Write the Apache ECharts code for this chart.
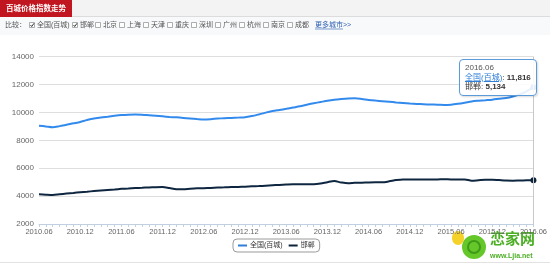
<!DOCTYPE html>
<html><head><meta charset="utf-8">
<script src="https://cdn.jsdelivr.net/npm/echarts@6/dist/echarts.min.js"></script>
<style>html,body{margin:0;padding:0;background:#fff;}#c{width:550px;height:264px;}</style>
</head><body><div id="c"></div>
<script>
// ---- data ----
var months = [];
(function(){ var y=2010,m=6; for(var i=0;i<73;i++){ months.push(y+'.'+(m<10?'0'+m:m)); m++; if(m>12){m=1;y++;} } })();
var seriesNames = ['全国(百城)', '邯郸'];
var national = [9050,9000,8940,9020,9120,9220,9320,9460,9560,9640,9700,9760,9810,9840,9850,9840,9800,9760,9720,9680,9650,9610,9570,9530,9500,9520,9560,9590,9610,9630,9650,9740,9860,9990,10100,10180,10260,10350,10440,10560,10660,10750,10840,10910,10960,11000,11020,10970,10900,10850,10810,10770,10720,10680,10640,10610,10590,10570,10560,10540,10560,10620,10700,10790,10840,10880,10920,10980,11040,11150,11300,11520,11816];
var handan = [4130,4100,4080,4130,4180,4230,4280,4320,4360,4400,4440,4480,4520,4550,4580,4600,4620,4640,4650,4580,4500,4490,4530,4560,4570,4590,4610,4630,4650,4660,4680,4700,4720,4750,4780,4800,4830,4850,4850,4850,4850,4900,5000,5080,4980,4920,4950,4960,4980,4990,4990,5060,5150,5200,5200,5200,5190,5200,5200,5210,5200,5200,5200,5110,5140,5170,5180,5150,5120,5110,5120,5130,5134];
var yTicks = [2000,4000,6000,8000,10000,12000,14000];
var title = '百城价格指数走势';
var compareLabel = '比较：';
var cities = [['全国(百城)',true],['邯郸',true],['北京',false],['上海',false],['天津',false],['重庆',false],['深圳',false],['广州',false],['杭州',false],['南京',false],['成都',false]];
var moreCities = '更多城市>>';

var colors = ['#2f7ed8', '#0d233a'];
var FONT = "'Liberation Sans','Noto Sans CJK SC',sans-serif";

// ---- header graphics ----
var g = [];
g.push({type:'rect', shape:{x:0,y:0,width:550,height:16}, style:{fill:'#f3f3f3'}, silent:true});
g.push({type:'rect', shape:{x:0,y:16,width:550,height:19}, style:{fill:'#f7f9fb'}, silent:true});
g.push({type:'line', shape:{x1:0,y1:16.5,x2:550,y2:16.5}, style:{stroke:'#dcdcdc',lineWidth:1}, silent:true});
g.push({type:'rect', shape:{x:0,y:0,width:72,height:17}, style:{fill:'#c1161f'}, silent:true});
g.push({type:'text', x:36, y:8.5, style:{text:title, fill:'#fff', font:"bold 7.5px 'Noto Sans CJK SC',sans-serif", textAlign:'center', textVerticalAlign:'middle'}, silent:true});
g.push({type:'text', x:5, y:25, style:{text:compareLabel, fill:'#555', font:"7px "+FONT, textVerticalAlign:'middle'}, silent:true});
var cx = [29,72,95,119,143,167,191,215,239,263,287];
cities.forEach(function(c,i){
  var x = cx[i];
  g.push({type:'rect', shape:{x:x+0.5,y:22.5,width:5,height:5}, style:{fill:'#fff', stroke:'#999', lineWidth:0.8}, silent:true});
  if(c[1]) g.push({type:'polyline', shape:{points:[[x+1.5,25],[x+2.7,26.5],[x+5,23.3]]}, style:{stroke:'#333', lineWidth:1, fill:null}, silent:true});
  g.push({type:'text', x:x+8, y:25, style:{text:c[0], fill:'#555', font:"7px "+FONT, textVerticalAlign:'middle'}, silent:true});
});
g.push({type:'text', x:315, y:25, style:{text:moreCities, fill:'#2a5db0', font:"7px "+FONT, textVerticalAlign:'middle'}, silent:true});
g.push({type:'line', shape:{x1:315,y1:29,x2:343,y2:29}, style:{stroke:'#2a5db0',lineWidth:0.6}, silent:true});
g.push({type:'line', shape:{x1:0,y1:262.5,x2:550,y2:262.5}, style:{stroke:'#e2e2e2',lineWidth:1}, silent:true});
// watermark
g.push({type:'circle', shape:{cx:474,cy:247,r:12}, style:{fill:'#66c72a'}, silent:true});
g.push({type:'circle', shape:{cx:474,cy:247,r:6}, style:{fill:'none', stroke:'#3f9a17', lineWidth:2}, silent:true});
g.push({type:'ellipse', shape:{cx:458,cy:238,rx:6,ry:7}, style:{fill:'#f5d22a'}, silent:true});
g.push({type:'text', x:490, y:238, style:{text:'恋家网', fill:'#4cae25', font:"bold 15px 'Noto Sans CJK SC',sans-serif", textVerticalAlign:'middle'}, silent:true});
g.push({type:'text', x:490, y:256, style:{text:'www.Ljia.net', fill:'#4cae25', font:"bold 7px "+FONT, textVerticalAlign:'middle'}, silent:true});

var chart = echarts.init(document.getElementById('c'), null, {renderer:'canvas'});
chart.setOption({
  animation:false,
  color: colors,
  textStyle:{fontFamily:FONT},
  grid:{left:39, right:10, top:56.7, bottom:40, containLabel:false},
  xAxis:{
    type:'category', data:months, boundaryGap:false,
    axisLine:{lineStyle:{color:'#c0d0e0'}},
    axisTick:{show:true, interval:0, length:3, lineStyle:{color:'#c0d0e0'}},
    axisLabel:{interval:5, color:'#666', fontSize:7.5, margin:4, showMaxLabel:true},
    splitLine:{show:false}
  },
  yAxis:{
    type:'value', min:yTicks[0], max:yTicks[yTicks.length-1], interval:2000,
    axisLine:{show:false}, axisTick:{show:false},
    axisLabel:{color:'#666', fontSize:8, margin:5, formatter:function(v){return String(v);}},
    splitLine:{lineStyle:{color:'#dedede', width:1}}
  },
  legend:{
    data:seriesNames, left:233, top:239, orient:'horizontal',
    borderColor:'#9a9a9a', borderWidth:1, borderRadius:4, padding:[3,5],
    itemWidth:9, itemHeight:2, itemGap:6, icon:'rect',
    textStyle:{fontSize:7, color:'#333', padding:[0,0,0,-2]}
  },
  tooltip:{
    trigger:'axis', alwaysShowContent:true, transitionDuration:0, showDelay:0, hideDelay:0,
    position:[459,59],
    backgroundColor:'rgba(255,255,255,0.88)', borderColor:'#5d9ad8', borderWidth:1, padding:[3,5],
    textStyle:{fontSize:8, color:'#333', fontFamily:FONT},
    extraCssText:'border-radius:4px;box-shadow:1px 1px 2px rgba(0,0,0,0.15);line-height:9.5px;',
    axisPointer:{type:'line', animation:false, lineStyle:{color:'#c8c8c8', width:1, type:'solid'}},
    formatter:function(ps){
      var s = '<div style="color:#555">'+ps[0].axisValue+'</div>';
      ps.forEach(function(p){
        s += '<div><span style="color:'+(p.seriesIndex===0?'#2f7ed8;text-decoration:underline':'#333')+'">'+p.seriesName+'</span>: <b>'+p.value.toLocaleString('en-US')+'</b></div>';
      });
      return s;
    }
  },
  series:[
    {name:seriesNames[0], type:'line', data:national, smooth:0.3, showSymbol:false, symbol:'circle', symbolSize:3, lineStyle:{width:2, color:colors[0]}, itemStyle:{color:colors[0]}},
    {name:seriesNames[1], type:'line', data:handan, smooth:0.3, showSymbol:false, symbol:'circle', symbolSize:3, lineStyle:{width:2, color:colors[1]}, itemStyle:{color:colors[1]}}
  ],
  graphic:g
});
chart.dispatchAction({type:'showTip', seriesIndex:0, dataIndex:72});
</script></body></html>
